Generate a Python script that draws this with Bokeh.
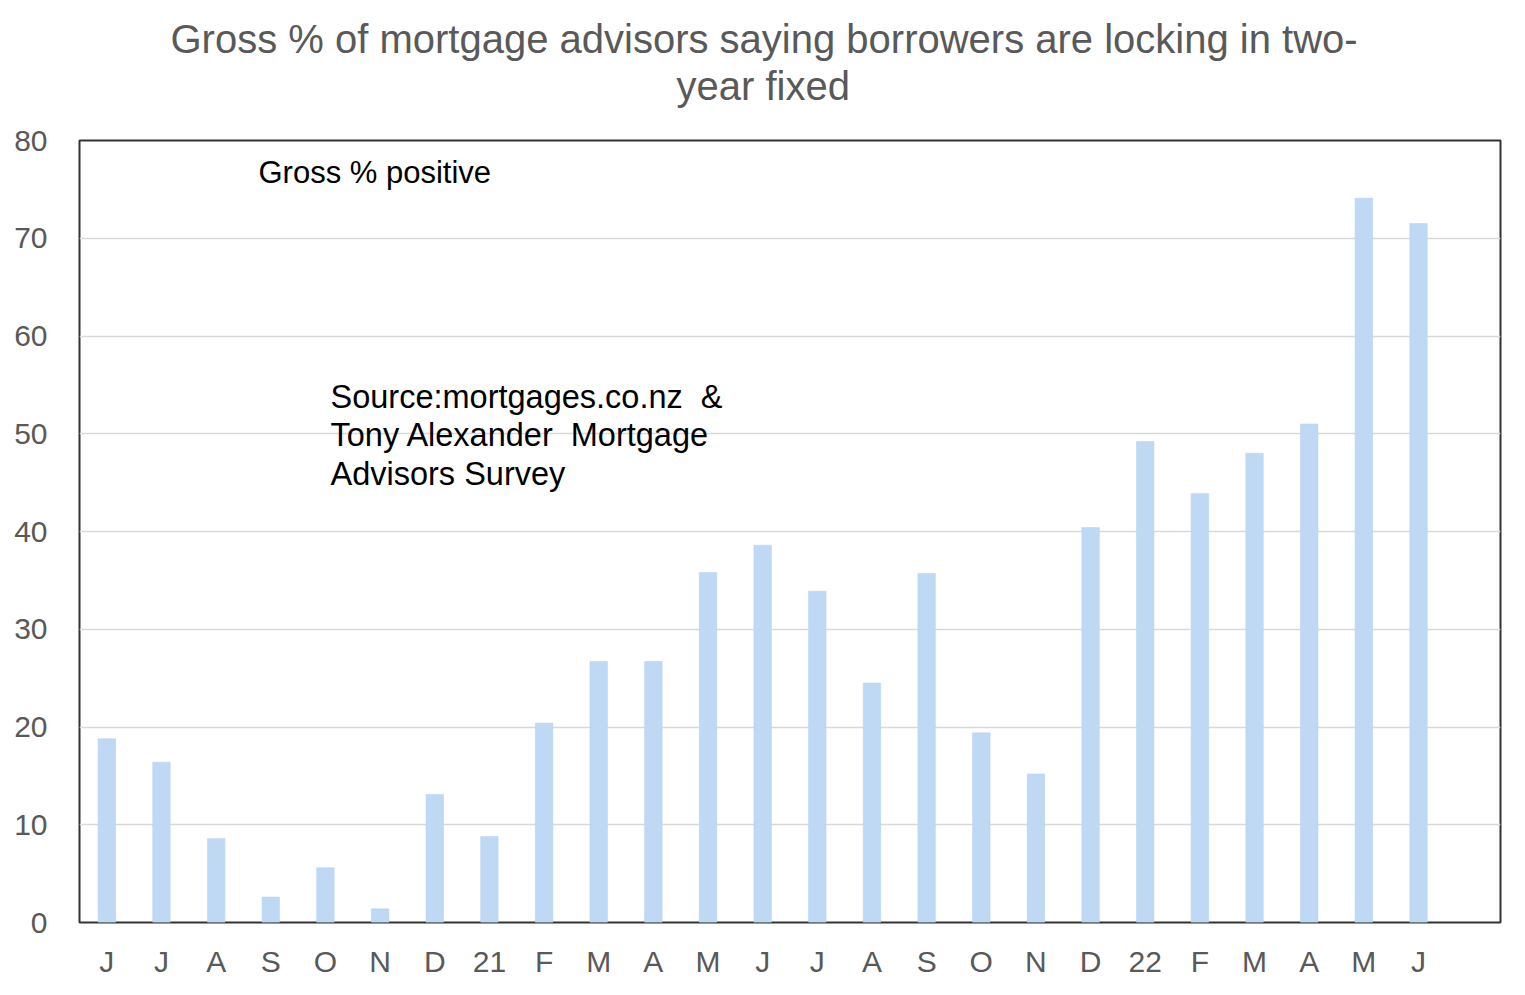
from bokeh.plotting import figure
from bokeh.models import Range1d, FixedTicker, Label, Title
from bokeh.embed import file_html
from bokeh.resources import INLINE

months = ["J", "J", "A", "S", "O", "N", "D", "21", "F", "M", "A", "M", "J",
          "J", "A", "S", "O", "N", "D", "22", "F", "M", "A", "M", "J"]
gross_positive = [18.8, 16.4, 8.6, 2.6, 5.6, 1.4, 13.1, 8.8, 20.4, 26.7, 26.7, 35.8, 38.6,
                  33.9, 24.5, 35.7, 19.4, 15.2, 40.4, 49.2, 43.9, 48.0, 51.0, 74.1, 71.5]
y_ticks = [0, 10, 20, 30, 40, 50, 60, 70, 80]
title_lines = ["Gross % of mortgage advisors saying borrowers are locking in two-", "year fixed"]
source_lines = ["Source:mortgages.co.nz\u00a0 &", "Tony Alexander\u00a0 Mortgage", "Advisors Survey"]

FONT = "Liberation Sans"
GREY = "#595959"

xs = list(range(len(months)))

FRAME_L, FRAME_T, FRAME_B = 79, 140, 922

p = figure(width=1517, height=987, output_backend="svg", toolbar_location=None, title=None,
           x_range=Range1d(-0.5, len(months) + 0.5), y_range=Range1d(0, 80),
           min_border_left=FRAME_L, min_border_right=17, min_border_top=FRAME_T, min_border_bottom=65)

p.add_layout(Title(text=title_lines[1], align="left", text_font=FONT, text_font_size="40px",
                   text_font_style="normal", text_color=GREY, offset=676 - FRAME_L, standoff=66), "above")
p.add_layout(Title(text=title_lines[0], align="left", text_font=FONT, text_font_size="40px",
                   text_font_style="normal", text_color=GREY, offset=170 - FRAME_L, standoff=-64), "above")

p.vbar(x=xs, top=gross_positive, width=0.32, bottom=0,
       fill_color="#BFD9F5", line_color="#B3D0F0", line_width=0.5)

p.xgrid.grid_line_color = None
p.ygrid.grid_line_color = "#D9D9D9"
p.ygrid.grid_line_width = 1.5
p.ygrid.ticker = FixedTicker(ticks=y_ticks)

p.outline_line_color = "#333333"
p.outline_line_width = 2

p.xaxis.ticker = FixedTicker(ticks=xs)
p.xaxis.major_label_overrides = {i: m for i, m in enumerate(months)}
p.yaxis.ticker = FixedTicker(ticks=y_ticks)

for ax in (p.xaxis[0], p.yaxis[0]):
    ax.axis_line_color = None
    ax.major_tick_line_color = None
    ax.minor_tick_line_color = None
    ax.major_label_text_font = FONT
    ax.major_label_text_font_size = "30px"
    ax.major_label_text_color = GREY

p.xaxis.major_label_standoff = 16
p.yaxis.major_label_standoff = 26

p.add_layout(Label(x=258 - FRAME_L, y=FRAME_B - 172, x_units="screen", y_units="screen",
                   text="Gross % positive", text_font=FONT, text_font_size="31px",
                   text_color="black", text_baseline="alphabetic", text_align="left"))
for i, line in enumerate(source_lines):
    p.add_layout(Label(x=330 - FRAME_L, y=FRAME_B - (396 + 38.5 * i), x_units="screen", y_units="screen",
                       text=line, text_font=FONT, text_font_size="32.5px",
                       text_color="black", text_baseline="alphabetic", text_align="left"))

open("out.html", "w").write(file_html(p, INLINE))
